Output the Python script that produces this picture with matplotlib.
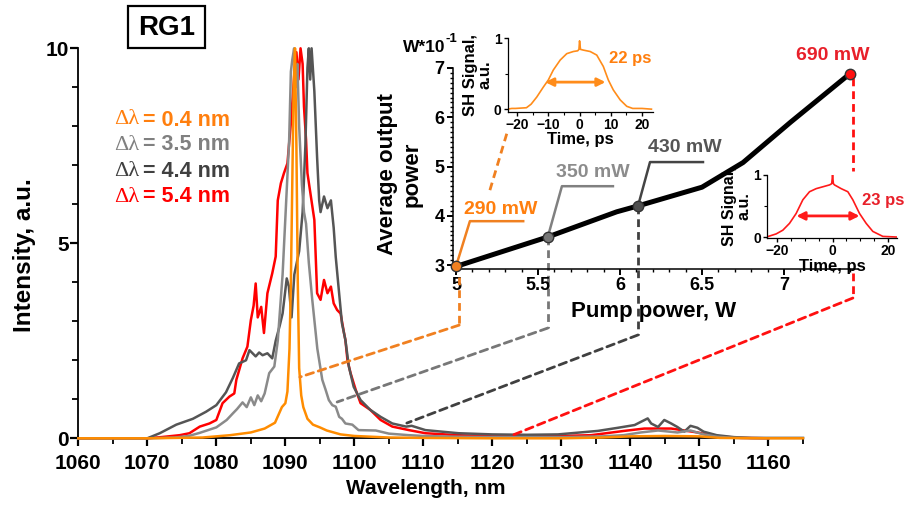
import matplotlib
matplotlib.use('Agg')
import matplotlib.pyplot as plt
from matplotlib.patches import ConnectionPatch, Rectangle
from matplotlib.ticker import MultipleLocator, FixedLocator

plt.rcParams['font.family'] = ['Liberation Sans', 'DejaVu Sans']
plt.rcParams['font.weight'] = 'bold'
plt.rcParams['axes.labelweight'] = 'bold'

# ---------------- data ----------------
red_x = [1060, 1070, 1072, 1074.7, 1076.1, 1077.6, 1079.0, 1080.0, 1080.9, 1081.9, 1082.6, 1082.9,
         1083.8, 1084.5, 1085.0, 1085.4, 1085.7, 1086.0, 1086.5, 1086.9, 1087.4, 1088.1, 1088.6,
         1088.9, 1089.35, 1089.8, 1090.3, 1090.8, 1091.3, 1091.6, 1091.9, 1092.2, 1092.5, 1092.7,
         1093.0, 1093.2, 1093.7, 1094.2, 1094.4, 1094.6, 1095.1, 1095.6, 1096.1, 1096.6, 1097.0,
         1097.5, 1098.0, 1098.5, 1098.7, 1099.0, 1099.45, 1100.2, 1100.9, 1102.3, 1103.8, 1105.5,
         1107.9, 1110.3, 1115, 1120, 1125, 1130, 1134.3, 1139.1, 1142, 1144, 1145.9, 1147.8,
         1149.7, 1151.6, 1153.5, 1156, 1160]
red_y = [0, 0, 0.03, 0.08, 0.13, 0.30, 0.38, 0.47, 0.90, 1.07, 1.15, 1.50,
         2.05, 2.35, 3.03, 3.4, 3.97, 3.1, 3.37, 2.7, 3.72, 4.23, 4.66,
         6.1, 6.54, 6.8, 7.05, 8.08, 9.35, 9.9, 9.2, 10.0, 9.6, 8.5,
         7.65, 6.8, 6.2, 5.6, 4.66, 3.72, 3.55, 4.06, 3.72, 3.89, 3.46,
         3.29, 3.2, 2.7, 2.52, 2.0, 1.67, 1.24, 0.9, 0.73, 0.47, 0.3,
         0.21, 0.13, 0.08, 0.05, 0.05, 0.06, 0.08, 0.19, 0.25, 0.25, 0.25, 0.2,
         0.15, 0.08, 0.04, 0.01, 0]

dark_x = [1060, 1070, 1071.8, 1074.2, 1076.6, 1078.5, 1080.0, 1081.4, 1082.4, 1083.3, 1084.3,
          1084.8, 1085.7, 1086.2, 1086.7, 1087.4, 1088.1, 1088.6, 1089.2, 1089.6, 1090.2, 1090.5,
          1090.9, 1091.3, 1092.0, 1092.5, 1092.9, 1093.2, 1093.4, 1093.6, 1093.8, 1094.2, 1094.6,
          1094.9, 1095.1, 1095.6, 1096.1, 1096.6, 1097.0, 1097.3, 1097.8, 1098.2, 1098.7, 1099.2,
          1099.9, 1100.9, 1102.3, 1103.8, 1105.5, 1107.5, 1108.3, 1110.3, 1115.1, 1120, 1125,
          1129.5, 1135.3, 1138.2, 1140.6, 1142.5, 1143, 1144, 1144.9, 1145.9, 1146.8, 1147.8,
          1148.7, 1149.7, 1150.6, 1152.5, 1155, 1157.5, 1165]
dark_y = [0, 0, 0.13, 0.35, 0.5, 0.68, 0.85, 1.18, 1.55, 1.92, 2.0,
          2.26, 2.1, 2.2, 2.13, 2.18, 2.05, 2.5, 2.9, 3.2, 4.1, 3.9,
          3.1, 4.2, 4.8, 5.8, 7.5, 9.5, 10.0, 9.2, 10.0, 8.9, 7.2,
          6.1, 5.8, 6.2, 5.9, 6.1, 5.4, 4.65, 3.7, 2.95, 2.52, 1.84,
          1.32, 0.98, 0.73, 0.55, 0.38, 0.3, 0.32, 0.21, 0.13, 0.1, 0.09,
          0.1, 0.19, 0.27, 0.34, 0.51, 0.38, 0.29, 0.47, 0.38, 0.29, 0.17,
          0.32, 0.27, 0.17, 0.08, 0.03, 0.01, 0.01]

light_x = [1060, 1070, 1074, 1076, 1077.6, 1080, 1081.5, 1082.4, 1083.0, 1083.8, 1084.4, 1085.0,
           1085.5, 1086.0, 1086.5, 1087.0, 1087.66, 1088.4, 1088.9, 1089.6, 1090.07, 1090.55,
           1090.8, 1091.0, 1091.27, 1091.5, 1091.75, 1092.0, 1092.4, 1092.7, 1093.0, 1093.4,
           1093.9, 1094.63, 1095.35, 1095.84, 1096.3, 1096.8, 1097.3, 1097.8, 1098.2, 1098.7,
           1099.7, 1100.6, 1103.1, 1105, 1107.9, 1110, 1115, 1120, 1130, 1136, 1139, 1141.5,
           1144, 1146.8, 1148.7, 1150.6, 1152.5, 1155, 1160]
light_y = [0, 0, 0.02, 0.06, 0.14, 0.28, 0.47, 0.64, 0.75, 0.92, 0.8, 1.05,
           0.85, 1.1, 0.95, 1.15, 1.67, 1.84, 2.5, 4.2, 5.9, 7.65,
           9.4, 9.7, 10.0, 9.0, 9.6, 8.0, 6.5, 5.8, 5.5, 4.5,
           3.55, 2.3, 1.5, 1.24, 0.98, 0.85, 0.81, 0.55, 0.5, 0.38,
           0.35, 0.21, 0.2, 0.12, 0.08, 0.06, 0.04, 0.03, 0.03, 0.05, 0.08, 0.15,
           0.2, 0.15, 0.2, 0.1, 0.04, 0.01, 0]

orange_x = [1060, 1070, 1078, 1082, 1085, 1087, 1088.5, 1089.5, 1090.0, 1090.3, 1090.6, 1090.8,
            1091.0, 1091.2, 1091.4, 1091.6, 1091.8, 1092.0, 1092.3, 1092.6, 1093.2, 1094, 1095,
            1096, 1098, 1100, 1105, 1110, 1120, 1130, 1136, 1140, 1145, 1150, 1153, 1160, 1165]
orange_y = [0, 0, 0.02, 0.08, 0.15, 0.25, 0.4, 0.8, 0.9, 1.2, 2.3, 4.0,
            6.5, 9.0, 10.0, 7.5, 4.0, 1.8, 1.1, 0.8, 0.5, 0.35, 0.28,
            0.2, 0.1, 0.06, 0.02, 0.01, 0.0, 0.0, 0.02, 0.05, 0.06, 0.05, 0.01, 0, 0]

pump = [5.0, 5.56, 5.98, 6.11, 6.5, 6.75, 7.04, 7.4]
power = [2.97, 3.57, 4.08, 4.2, 4.58, 5.08, 5.9, 6.88]

sh1_t = [-23, -21.7, -20.5, -17, -15.5, -13.7, -11.6, -10, -8.4, -6.2, -4.1, -2, -0.6, -0.2, 0,
         0.3, 1.2, 3.4, 5.5, 7.6, 9.2, 10.8, 13, 15.1, 17, 20, 23]
sh1_s = [0, 0.01, 0.01, 0.02, 0.07, 0.17, 0.31, 0.41, 0.55, 0.69, 0.78, 0.81, 0.82, 0.84, 0.96,
         0.84, 0.83, 0.81, 0.76, 0.6, 0.41, 0.27, 0.13, 0.04, 0.01, 0.01, 0]

sh2_t = [-23.8, -20.3, -17.9, -15.5, -13.1, -10.7, -8.3, -5.9, -3.5, -1.1, -0.3, 0, 0.3, 0.7,
         3.1, 5.5, 7.3, 9.7, 12.1, 14.5, 18.1, 22.9]
sh2_s = [0, 0.05, 0.11, 0.22, 0.38, 0.6, 0.73, 0.78, 0.81, 0.84, 0.86, 1.0, 0.86, 0.84,
         0.78, 0.73, 0.6, 0.38, 0.22, 0.09, 0.01, 0]

legend_labels = ['= 0.4 nm', '= 3.5 nm', '= 4.4 nm', '= 5.4 nm']
power_labels = ['290 mW', '350 mW', '430 mW', '690 mW']

C_OR = '#FF8C00'
C_LG = '#8A8A8A'
C_DG = '#555555'
C_RD = '#FF0000'

W, H = 907, 505
fig = plt.figure(figsize=(W / 100, H / 100), dpi=100)


def fx(px):
    return px / W


def fy(py):
    return 1 - py / H


def rect(l, t, r, b):
    return [l / W, 1 - b / H, (r - l) / W, (b - t) / H]


# ---------------- main axes ----------------
AX_L, AX_T, AX_R, AX_B = 78.3, 48.3, 803, 438.3
ax = fig.add_axes(rect(AX_L, AX_T, AX_R, AX_B))
ax.plot(red_x, red_y, color=C_RD, lw=1.8, clip_on=False, zorder=2)
ax.plot(dark_x, dark_y, color=C_DG, lw=1.8, clip_on=False, zorder=3)
ax.plot(light_x, light_y, color=C_LG, lw=1.8, clip_on=False, zorder=4)
ax.plot(orange_x, orange_y, color=C_OR, lw=1.8, clip_on=False, zorder=5)
ax.set_xlim(1060, 1165)
ax.set_ylim(0, 10)
for s in ['top', 'right']:
    ax.spines[s].set_visible(False)
for s in ['left', 'bottom']:
    ax.spines[s].set_linewidth(1.3)
ax.xaxis.set_major_locator(MultipleLocator(10))
ax.xaxis.set_minor_locator(MultipleLocator(5))
ax.yaxis.set_major_locator(MultipleLocator(5))
ax.yaxis.set_minor_locator(MultipleLocator(1))
ax.tick_params(which='major', direction='out', length=6, width=1.6, labelsize=15)
ax.tick_params(axis='y', which='major', pad=1)
ax.tick_params(axis='x', which='major', pad=5)
ax.tick_params(which='minor', direction='out', length=4, width=1.3)
ax.set_xlabel('Wavelength, nm', fontsize=15)
ax.xaxis.set_label_coords((426 - AX_L) / (AX_R - AX_L), -(479 - AX_B) / (AX_B - AX_T))
ax.set_ylabel('Intensity, a.u.', fontsize=17.5)
ax.yaxis.set_label_coords(-(AX_L - 36) / (AX_R - AX_L), (AX_B - 255) / (AX_B - AX_T))

# RG1 box
fig.add_artist(Rectangle((fx(128), fy(48)), (205 - 128) / W, (48 - 6) / H,
                         transform=fig.transFigure, fill=False, ec='black', lw=1.6))
fig.text(fx(167), fy(28), 'RG1', fontsize=20, ha='center', va='center')

# legend texts
leg_cols = ['#FF7F0E', '#808080', '#404040', '#FF0000']
leg_y = [120, 145, 171, 197]
for lab, c, yy in zip(legend_labels, leg_cols, leg_y):
    fig.text(fx(114), fy(yy), 'Δλ', fontsize=16, color=c, ha='left', va='center',
             family='Liberation Serif', weight='normal')
    fig.text(fx(143), fy(yy), lab, fontsize=15.5, color=c, ha='left', va='center')

# ---------------- power inset ----------------
axp = fig.add_axes(rect(453, 68, 858, 269))
axp.patch.set_alpha(0)
axp.plot(pump, power, color='black', lw=3.6, solid_capstyle='round', zorder=3)
mk_idx = [0, 1, 3, 7]
mk_cols = ['#F08020', '#777777', '#505050', '#FF1010']
for i, c in zip(mk_idx, mk_cols):
    axp.plot(pump[i], power[i], 'o', ms=7.5, mfc=c, mec='#333333', mew=1.0, zorder=5, clip_on=False)
axp.set_xlim(4.982, 7.451)
axp.set_ylim(2.919, 7.0)
for s in ['top', 'right']:
    axp.spines[s].set_visible(False)
for s in ['left', 'bottom']:
    axp.spines[s].set_linewidth(1.1)
axp.xaxis.set_major_locator(FixedLocator([5, 5.5, 6, 6.5, 7]))
axp.set_xticklabels(['5', '5.5', '6', '6.5', '7'])
axp.xaxis.set_minor_locator(MultipleLocator(0.1))
axp.yaxis.set_major_locator(MultipleLocator(1))
axp.yaxis.set_minor_locator(MultipleLocator(0.1))
axp.tick_params(which='major', direction='out', length=4, width=1.4, labelsize=13, pad=2)
axp.tick_params(which='minor', direction='out', length=2.5, width=1.0)

fig.text(fx(403), fy(47), 'W*10', fontsize=12.5, ha='left', va='center')
fig.text(fx(445), fy(39), '-1', fontsize=9.5, ha='left', va='center')
fig.text(fx(400), fy(174), 'Average output\npower', fontsize=16, rotation=90,
         ha='center', va='center', linespacing=1.2)
fig.text(fx(654), fy(311), 'Pump power, W', fontsize=16, ha='center', va='center')

# callouts
axp.plot([pump[0], 5.085, 5.41], [power[0], 3.89, 3.89], color='#F08020', lw=1.8, zorder=2)
axp.text(5.27, 4.12, power_labels[0], color='#FF7F0E', fontsize=14, ha='center', va='center')
axp.plot([pump[1], 5.646, 5.957], [power[1], 4.6, 4.6], color='#808080', lw=1.8, zorder=2)
axp.text(5.835, 4.87, power_labels[1], color='#8C8C8C', fontsize=14, ha='center', va='center')
axp.plot([pump[3], 6.183, 6.506], [power[3], 5.09, 5.09], color='#444444', lw=1.8, zorder=2)
axp.text(6.396, 5.38, power_labels[2], color='#555555', fontsize=14, ha='center', va='center')
axp.text(7.30, 7.26, power_labels[3], color='#E8202A', fontsize=14, ha='center', va='center',
         clip_on=False)

DASH = (0, (2.8, 1.8))
# orange connector
axp.plot([5.207, 5.311], [4.52, 5.68], color='#F08020', lw=2, ls=DASH, clip_on=False, zorder=1)
axp.plot([5.02, 5.02], [2.76, 1.78], color='#F08020', lw=2, ls=DASH, clip_on=False)
fig.add_artist(ConnectionPatch(xyA=(5.02, 1.78), coordsA=axp.transData,
                               xyB=(1092.1, 1.57), coordsB=ax.transData,
                               color='#F08020', lw=2, ls=DASH))
# gray connector
axp.plot([pump[1], pump[1]], [power[1], 1.72], color='#777777', lw=2, ls=DASH, clip_on=False, zorder=1)
fig.add_artist(ConnectionPatch(xyA=(pump[1], 1.72), coordsA=axp.transData,
                               xyB=(1097.5, 0.93), coordsB=ax.transData,
                               color='#777777', lw=2, ls=DASH))
# dark connector
axp.plot([pump[3], pump[3]], [power[3], 1.58], color='#404040', lw=2, ls=DASH, clip_on=False, zorder=1)
fig.add_artist(ConnectionPatch(xyA=(pump[3], 1.58), coordsA=axp.transData,
                               xyB=(1107.6, 0.39), coordsB=ax.transData,
                               color='#404040', lw=2, ls=DASH))
# red connector
axp.plot([7.42, 7.42], [6.8, 4.9], color='#FF1010', lw=2, ls=DASH, clip_on=False, zorder=1)
axp.plot([7.42, 7.42], [2.84, 2.33], color='#FF1010', lw=2, ls=DASH, clip_on=False, zorder=1)
fig.add_artist(ConnectionPatch(xyA=(7.42, 2.33), coordsA=axp.transData,
                               xyB=(1122.5, 0.05), coordsB=ax.transData,
                               color='#FF1010', lw=2, ls=DASH))

# ---------------- SH insets ----------------
def sh_axes(r, t, s, color, xl, yl, xticks, fwhm, label, lab_xy, arrow_x, arrow_y,
            ylab_size, xlab_pad):
    a = fig.add_axes(r)
    a.patch.set_alpha(0)
    a.plot(t, s, color=color, lw=1.2)
    a.set_xlim(*xl)
    a.set_ylim(*yl)
    for sp in ['top', 'right']:
        a.spines[sp].set_visible(False)
    for sp in ['left', 'bottom']:
        a.spines[sp].set_linewidth(0.9)
    a.xaxis.set_major_locator(FixedLocator(xticks))
    a.xaxis.set_minor_locator(MultipleLocator(5))
    a.yaxis.set_major_locator(FixedLocator([0, 1]))
    a.yaxis.set_minor_locator(FixedLocator([0.5]))
    a.tick_params(which='major', direction='out', length=3, width=1.0, labelsize=10, pad=1.5)
    a.tick_params(which='minor', direction='out', length=2, width=0.8)
    a.set_xlabel('Time, ps', fontsize=12, labelpad=xlab_pad)
    a.set_ylabel('SH Signal,\na.u.', fontsize=ylab_size, labelpad=1, linespacing=0.95)
    a.annotate('', xy=(arrow_x[0], arrow_y), xytext=(arrow_x[1], arrow_y),
               arrowprops=dict(arrowstyle='<|-|>', color=color, lw=2, mutation_scale=12,
                               shrinkA=0, shrinkB=0))
    fig.text(fx(lab_xy[0]), fy(lab_xy[1]), fwhm, color=label, fontsize=12, ha='center', va='center')
    return a


sh_axes(rect(508, 38, 653, 112), sh1_t, sh1_s, '#FF8C1A', (-22.9, 23.5), (-0.04, 1.0),
        [-20, -10, 0, 10, 20], '22 ps', '#FF7F0E', (630, 59), (-11, 8.3), 0.38, 12, 0)
sh_axes(rect(767, 175, 897, 238), sh2_t, sh2_s, '#FF1A1A', (-23.6, 23.2), (-0.016, 1.0),
        [-20, 0, 20], '23 ps', '#E8202A', (883, 200), (-13, 9.7), 0.34, 11.5, 0.5)

fig.savefig('out.png', dpi=100)
